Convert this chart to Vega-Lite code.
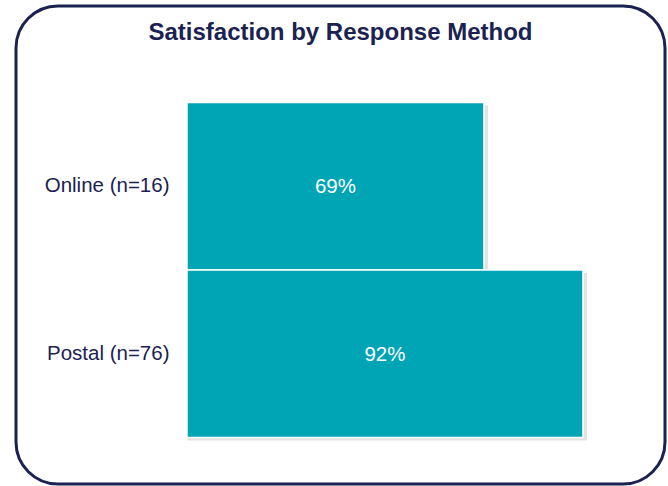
{
  "$schema": "https://vega.github.io/schema/vega-lite/v6.json",
  "autosize": {"type": "none"},
  "padding": {"left": 16, "top": 6, "right": 3, "bottom": 2},
  "width": 649,
  "height": 478,
  "background": "white",
  "config": {
    "font": "Liberation Sans",
    "view": {"stroke": "#1B2251", "strokeWidth": 3, "cornerRadius": 42}
  },
  "title": {
    "text": "Satisfaction by Response Method",
    "font": "Liberation Sans",
    "fontSize": 24,
    "fontWeight": "bold",
    "color": "#1B2251",
    "anchor": "middle",
    "baseline": "alphabetic",
    "offset": -58
  },
  "data": {
    "values": [
      {"method": "Online (n=16)", "satisfied": 0.69},
      {"method": "Postal (n=76)", "satisfied": 0.92}
    ]
  },
  "transform": [{"calculate": "datum.satisfied / 2", "as": "labelPos"}],
  "encoding": {
    "y": {
      "field": "method",
      "type": "nominal",
      "sort": null,
      "scale": {"paddingInner": 0, "paddingOuter": 0.427, "align": 0.675},
      "axis": {
        "title": null,
        "offset": -171,
        "domain": false,
        "ticks": false,
        "labelPadding": 18,
        "labelFontSize": 20.5,
        "labelColor": "#1B2251",
        "labelFont": "Liberation Sans"
      }
    }
  },
  "layer": [
    {
      "mark": {"type": "bar", "color": "#dcdcdc", "xOffset": 4, "yOffset": 3, "opacity": 0.8},
      "encoding": {
        "x": {"field": "satisfied", "type": "quantitative", "scale": {"domain": [-0.3973, 1.1106], "nice": false, "zero": false}, "axis": null},
        "x2": {"datum": 0}
      }
    },
    {
      "mark": {"type": "bar", "color": "#00A5B5", "stroke": "white", "strokeWidth": 1.5},
      "encoding": {
        "x": {"field": "satisfied", "type": "quantitative"},
        "x2": {"datum": 0}
      }
    },
    {
      "mark": {"type": "text", "color": "white", "fontSize": 20.5, "font": "Liberation Sans", "baseline": "middle", "align": "center", "dy": 1},
      "encoding": {
        "x": {"field": "labelPos", "type": "quantitative"},
        "text": {"field": "satisfied", "type": "quantitative", "format": ".0%"}
      }
    }
  ]
}
